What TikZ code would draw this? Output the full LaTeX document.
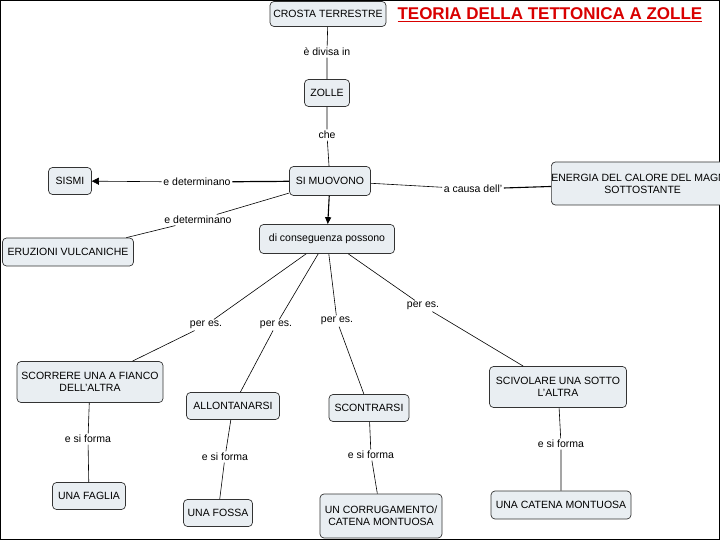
\documentclass[tikz,border=0pt]{standalone}
\usepackage{fontspec}
\setmainfont{Liberation Sans}
\usetikzlibrary{arrows.meta}
\definecolor{nodefill}{HTML}{E9EEF2}
\begin{document}
\begin{tikzpicture}[x=1pt,y=-1pt,
  box/.style={draw=black!80,rounded corners=4pt,fill=nodefill,line width=0.7pt,font=\fontsize{10.5}{12}\selectfont,align=center,inner sep=0pt},
  lab/.style={font=\fontsize{10.5}{12}\selectfont,fill=white,inner sep=1.5pt},
  ln/.style={line width=0.6pt}]
\useasboundingbox (0,0) rectangle (720,540);
\fill[white] (0,0) rectangle (720,540);
\draw[line width=1pt] (0.5,0.5) rectangle (719.5,539.5);
\node[box,minimum width=116,minimum height=25] (crosta) at (328,14) {CROSTA TERRESTRE};
\node[anchor=west,text=red!85!black,font=\fontsize{17}{18}\selectfont\bfseries] (title) at (394,15) {\underline{TEORIA DELLA TETTONICA A ZOLLE}};
\node[lab] (l1) at (327,52) {è divisa in};
\node[box,minimum width=45,minimum height=27] (zolle) at (327,93) {ZOLLE};
\node[lab] (l2) at (327,135) {che};
\node[box,minimum width=81,minimum height=29] (muov) at (330,181) {SI MUOVONO};
\node[box,minimum width=43,minimum height=27] (sismi) at (70,181) {SISMI};
\node[lab] (l3) at (197,182) {e determinano};
\node[lab] (l4) at (198,220) {e determinano};
\node[box,minimum width=131,minimum height=28] (eruz) at (68,252) {ERUZIONI VULCANICHE};
\node[lab] (l5) at (473,189) {a causa dell'};
\node[box,minimum width=174,minimum height=43,anchor=west] (energia) at (551,183.5) {ENERGIA DEL CALORE DEL MAGMA\\SOTTOSTANTE};
\node[box,minimum width=135,minimum height=29] (cons) at (327,239) {di conseguenza possono};
\node[lab] (p1) at (206,325) {per es.};
\node[lab] (p2) at (276,325) {per es.};
\node[lab] (p3) at (337,321) {per es.};
\node[lab] (p4) at (423,306) {per es.};
\node[box,minimum width=146,minimum height=41] (scorr) at (90,382) {SCORRERE UNA A FIANCO\\DELL'ALTRA};
\node[box,minimum width=93,minimum height=27] (allon) at (233,406) {ALLONTANARSI};
\node[box,minimum width=80,minimum height=27] (scont) at (369,408) {SCONTRARSI};
\node[box,minimum width=137,minimum height=41] (sciv) at (558,387) {SCIVOLARE UNA SOTTO\\L'ALTRA};
\node[lab] (f1) at (88,439) {e si forma};
\node[lab] (f2) at (225,457) {e si forma};
\node[lab] (f3) at (371,455) {e si forma};
\node[lab] (f4) at (561,444) {e si forma};
\node[box,minimum width=73,minimum height=27] (faglia) at (89,496) {UNA FAGLIA};
\node[box,minimum width=69,minimum height=27] (fossa) at (218,513) {UNA FOSSA};
\node[box,minimum width=122,minimum height=44] (corr) at (381,516) {UN CORRUGAMENTO/\\CATENA MONTUOSA};
\node[box,minimum width=140,minimum height=28] (catena) at (561,505) {UNA CATENA MONTUOSA};
\draw[ln] (crosta) -- (l1) -- (zolle) -- (l2) -- (muov);
\draw[ln,-{Triangle[length=7pt,width=7pt]}] (l3) -- (sismi);
\draw[line width=1.2pt] (muov) -- (l3);
\draw[ln] (muov) -- (l4) -- (eruz);
\draw[ln] (muov) -- (l5);
\draw[line width=1.1pt] (l5) -- (energia);
\draw[line width=1.1pt,-{Triangle[length=7pt,width=6pt]}] (muov) -- (cons);
\draw[ln] (cons) -- (p1) -- (scorr);
\draw[ln] (cons) -- (p2) -- (allon);
\draw[ln] (cons) -- (p3) -- (scont);
\draw[ln] (cons) -- (p4) -- (sciv);
\draw[ln] (scorr) -- (f1) -- (faglia);
\draw[ln] (allon) -- (f2) -- (fossa);
\draw[ln] (scont) -- (f3) -- (corr);
\draw[ln] (sciv) -- (f4) -- (catena);
\end{tikzpicture}
\end{document}
